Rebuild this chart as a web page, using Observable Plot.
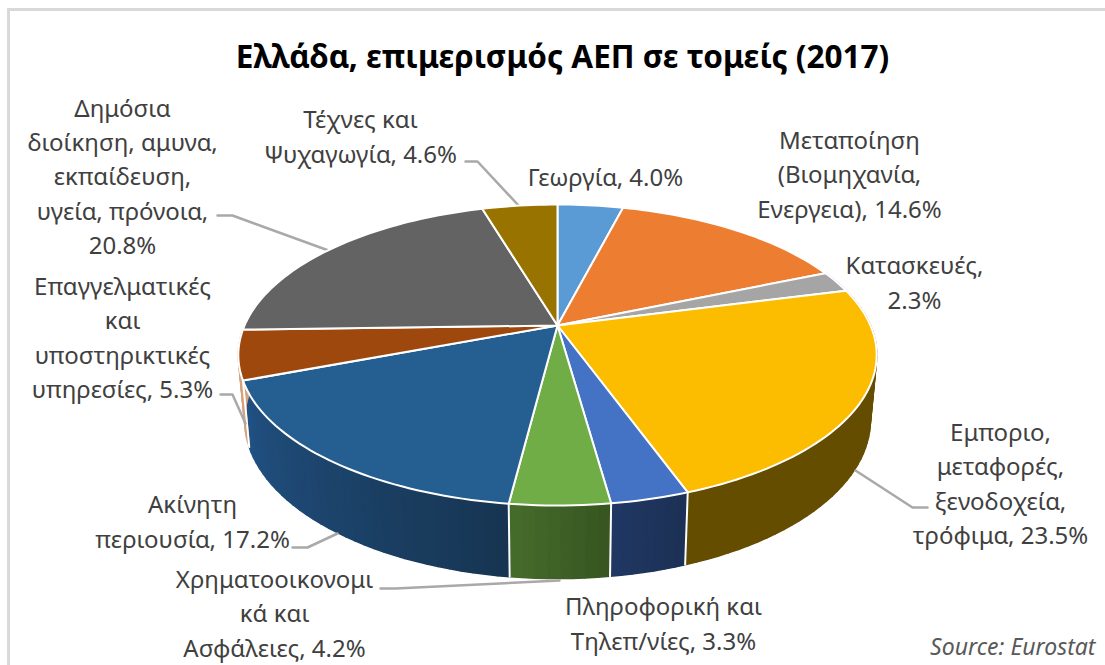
<!DOCTYPE html>
<html><head><meta charset="utf-8">
<script src="https://cdn.jsdelivr.net/npm/d3@7"></script>
<script src="https://cdn.jsdelivr.net/npm/@observablehq/plot@0.6"></script>
<style>html,body{margin:0;padding:0;background:#fff}svg{display:block}</style>
</head><body><div id="chart"></div>
<script>
// ---- data
const sectors = ["Γεωργία","Μεταποίηση","Κατασκευές","Εμπόριο","Πληροφορική","Χρηματοοικονομικά","Ακίνητη περιουσία","Επαγγελματικές","Δημόσια διοίκηση","Τέχνες"];
const shares = [4.0,14.6,2.3,23.5,3.3,4.2,17.2,5.3,20.8,4.6];
const topColors = ["#5b9bd5","#ed7d31","#a5a5a5","#fcbd00","#4472c4","#70ad47","#255e91","#9e480e","#636363","#997300"];
const wallFrom = ["#3d6f9d","#a15520","#707070","#654d00","#203864","#466c2c","#215284","#d3a27f","#434343","#664d00"];
const wallTo = ["#3d6f9d","#a15520","#707070","#654d00","#1c3054","#365420","#173552","#d3a27f","#434343","#664d00"];
const labelTexts = ["Γεωργία, 4.0%","Μεταποίηση\n(Βιομηχανία,\nΕνεργεια), 14.6%","Κατασκευές,\n2.3%","Εμποριο,\nμεταφορές,\nξενοδοχεία,\nτρόφιμα, 23.5%","Πληροφορική και\nΤηλεπ/νίες, 3.3%","Χρηματοοικονομι\nκά και\nΑσφάλειες, 4.2%","Ακίνητη\nπεριουσία, 17.2%","Επαγγελματικές\nκαι\nυποστηρικτικές\nυπηρεσίες, 5.3%","Δημόσια\nδιοίκηση, αμυνα,\nεκπαίδευση,\nυγεία, πρόνοια,\n20.8%","Τέχνες και\nΨυχαγωγία, 4.6%"];
const titleText = "Ελλάδα, επιμερισμός ΑΕΠ σε τομείς (2017)";
const sourceText = "Source: Eurostat";

// ---- layout (page pixels)
const W = 1105, H = 665, cx = 557, cy = 325, rx = 313, ry = 144.7;
const persp = 0.196, floorScaleX = 0.98, floorScaleY = 0.967, floorDrop = 0.439;
const labelPos = [[605,175],[849,172],[914,280],[1000,481],[663,621],[274,611],[192,519],[122,335],[122,174],[360,134]];
const leaders = [
  [[217,215],[232,215],[328,250]],
  [[465,161],[477,161],[519,206]],
  [[927,507],[912,507],[855,470]],
  [[220,394],[232,394],[245,423]],
  [[292,547],[307,547],[337,533]],
  [[380,588],[395,588],[559,580]]
];
const xToModel = p => (p - cx) / rx, yToModel = p => (cy - p) / ry;

// ---- geometry: share of the circle -> perspective-projected disc coordinates
const total = d3.sum(shares);
const cum = Array.from(d3.cumsum(shares), c => c / total * 2 * Math.PI);
const starts = [0, ...cum.slice(0, -1)];
const rimPt = t => { const u = Math.sin(t), v = Math.cos(t), d = 1 + persp * v; return {x: u / d, y: v / d}; };
const floorPt = t => { const u = Math.sin(t), v = Math.cos(t), d = 1 + persp * v; return {x: floorScaleX * u / d, y: (floorScaleY * v - floorDrop) / d}; };
const steps = (a, b, n) => d3.range(n + 1).map(i => a + (b - a) * i / n);

const topPolys = sectors.flatMap((s, i) => {
  const n = Math.max(4, Math.ceil((cum[i] - starts[i]) * 40));
  const pts = [{x: 0, y: 0}, ...steps(starts[i], cum[i], n).map(rimPt), {x: 0, y: 0}];
  return pts.map(p => ({...p, key: s, color: topColors[i]}));
});
const wallQuads = sectors.flatMap((s, i) => {
  if (!(cum[i] > 1.2 && starts[i] < 4.4)) return [];
  const n = Math.max(4, Math.ceil((cum[i] - starts[i]) * 30));
  const mix = d3.interpolateRgb(wallFrom[i], wallTo[i]);
  const ts = steps(starts[i], cum[i], n);
  return d3.range(n).flatMap(k => {
    const c = mix(1 - (k + .5) / n), key = s + k;
    return [rimPt(ts[k]), rimPt(ts[k+1]), floorPt(ts[k+1]), floorPt(ts[k]), rimPt(ts[k])].map(p => ({...p, key, color: c}));
  });
});
const seams = cum.filter(t => t > Math.PI / 2 && t < 4.4).flatMap((t, i) => [rimPt(t), floorPt(t)].map(p => ({...p, key: i})));
const leaderPts = leaders.flatMap((l, i) => l.map(([a, b]) => ({x: xToModel(a), y: yToModel(b), key: i})));
const labels = labelTexts.map((text, i) => ({text, x: xToModel(labelPos[i][0]), y: yToModel(labelPos[i][1])}));

const font = "'Noto Sans', sans-serif";
const plot = Plot.plot({
  width: W, height: H, margin: 0, style: {background: "#fff"},
  x: {domain: [-1, 1], range: [cx - rx, cx + rx], axis: null},
  y: {domain: [-1, 1], range: [cy + ry, cy - ry], axis: null},
  color: {type: "identity"},
  marks: [
    Plot.frame({stroke: "#d9d9d9", strokeWidth: 3, insetLeft: 8, insetTop: 9, insetRight: -10, insetBottom: -10}),
    Plot.line(wallQuads, {x: "x", y: "y", z: "key", fill: "color", stroke: "color", strokeWidth: 1.6}),
    Plot.line(seams, {x: "x", y: "y", z: "key", stroke: "#fff", strokeWidth: 2}),
    Plot.line(leaderPts, {x: "x", y: "y", z: "key", stroke: "#a9a9a9", strokeWidth: 2.5, strokeLinejoin: "miter"}),
    Plot.line(topPolys, {x: "x", y: "y", z: "key", fill: "color", stroke: "#fff", strokeWidth: 2, strokeLinejoin: "round"}),
    Plot.text(labels, {x: "x", y: "y", text: "text", fontFamily: font, fontSize: 24, lineHeight: 1.43, fill: "#404040", textAnchor: "middle", lineAnchor: "middle"}),
    Plot.text([titleText], {frameAnchor: "top-left", dx: 562, dy: 57, text: d => d, fontFamily: font, fontSize: 31.5, fontWeight: 700, fill: "#000", textAnchor: "middle", lineAnchor: "middle"}),
    Plot.text([sourceText], {frameAnchor: "top-left", dx: 1095, dy: 647, text: d => d, fontFamily: font, fontSize: 23, fontStyle: "italic", fill: "#595959", textAnchor: "end", lineAnchor: "middle"})
  ]
});
document.getElementById("chart").append(plot);
</script></body></html>
